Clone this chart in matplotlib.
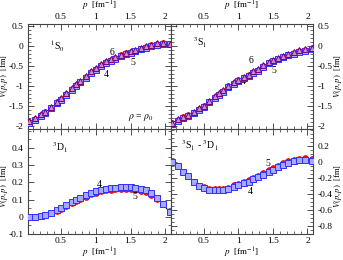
import matplotlib

matplotlib.use("Agg")
import matplotlib.pyplot as plt
from matplotlib.ticker import MultipleLocator, FuncFormatter

plt.rcParams["font.family"] = ["Liberation Serif", "DejaVu Serif"]
plt.rcParams["mathtext.fontset"] = "stix"
plt.rcParams["axes.unicode_minus"] = False

# momentum mesh [fm^-1]
p = [0.05, 0.13, 0.21, 0.27, 0.36, 0.44, 0.50, 0.58, 0.66, 0.72, 0.78, 0.86, 0.94, 1.00,
     1.08, 1.15, 1.22, 1.28, 1.36, 1.44, 1.50, 1.57, 1.65, 1.72, 1.80, 1.88, 1.96, 2.06]

# 1S0
s0_n4 = [-1.93, -1.85, -1.75, -1.68, -1.56, -1.43, -1.34, -1.22, -1.09, -1.00, -0.91, -0.79, -0.67, -0.59,
         -0.49, -0.42, -0.36, -0.31, -0.25, -0.20, -0.17, -0.13, -0.08, -0.04, 0.00, 0.04, 0.06, 0.05]
s0_n5 = [-1.91, -1.83, -1.73, -1.66, -1.54, -1.41, -1.32, -1.20, -1.07, -0.98, -0.89, -0.77, -0.65, -0.57,
         -0.47, -0.40, -0.34, -0.29, -0.23, -0.18, -0.15, -0.11, -0.06, -0.02, 0.02, 0.06, 0.08, 0.06]
s0_n6 = [-1.89, -1.81, -1.71, -1.64, -1.52, -1.39, -1.30, -1.18, -1.05, -0.96, -0.87, -0.75, -0.63, -0.55,
         -0.45, -0.38, -0.32, -0.27, -0.21, -0.16, -0.13, -0.09, -0.04, 0.00, 0.04, 0.08, 0.09, 0.06]

# 3S1
s1_n4 = [-1.96, -1.88, -1.81, -1.76, -1.69, -1.60, -1.53, -1.41, -1.30, -1.22, -1.14, -1.03, -0.94, -0.88,
         -0.81, -0.75, -0.67, -0.61, -0.51, -0.43, -0.38, -0.33, -0.28, -0.23, -0.19, -0.14, -0.11, -0.06]
s1_n5 = [-1.94, -1.86, -1.79, -1.74, -1.67, -1.58, -1.51, -1.39, -1.28, -1.20, -1.12, -1.01, -0.92, -0.86,
         -0.79, -0.73, -0.65, -0.59, -0.49, -0.41, -0.36, -0.31, -0.26, -0.21, -0.17, -0.12, -0.09, -0.05]
s1_n6 = [-1.92, -1.84, -1.77, -1.72, -1.65, -1.56, -1.49, -1.37, -1.26, -1.18, -1.10, -0.99, -0.90, -0.84,
         -0.77, -0.71, -0.63, -0.57, -0.47, -0.39, -0.34, -0.29, -0.24, -0.19, -0.15, -0.10, -0.08, -0.04]

# 3D1
d1_n4 = [0.000, 0.000, 0.004, 0.010, 0.022, 0.040, 0.052, 0.068, 0.085, 0.098, 0.110, 0.125, 0.140, 0.148,
         0.157, 0.163, 0.168, 0.170, 0.172, 0.172, 0.171, 0.168, 0.162, 0.153, 0.137, 0.110, 0.075, 0.028]
d1_n5 = [0.000, 0.000, 0.003, 0.008, 0.020, 0.036, 0.048, 0.062, 0.078, 0.090, 0.101, 0.115, 0.130, 0.138,
         0.147, 0.153, 0.158, 0.160, 0.162, 0.162, 0.161, 0.158, 0.152, 0.143, 0.128, 0.104, 0.072, 0.026]

# 3S1 - 3D1
sd_n4 = [0.000, -0.050, -0.130, -0.180, -0.250, -0.300, -0.320, -0.345, -0.355, -0.355, -0.350, -0.340, -0.310, -0.290,
         -0.265, -0.245, -0.220, -0.195, -0.160, -0.125, -0.100, -0.070, -0.040, -0.015, 0.005, 0.020, 0.025, 0.015]
sd_n5 = [0.000, -0.048, -0.127, -0.177, -0.245, -0.295, -0.313, -0.335, -0.343, -0.340, -0.335, -0.322, -0.290, -0.270,
         -0.245, -0.225, -0.200, -0.175, -0.140, -0.105, -0.080, -0.050, -0.020, 0.005, 0.025, 0.040, 0.045, 0.032]

W, H = 343, 260
fig = plt.figure(figsize=(W / 100, H / 100), dpi=100)


def px_axes(x0, y0, x1, y1):
    return fig.add_axes([x0 / W, 1 - y1 / H, (x1 - x0) / W, (y1 - y0) / H])


ax_tl = px_axes(28, 24, 171, 129)
ax_tr = px_axes(171, 24, 313, 129)
ax_bl = px_axes(28, 129, 171, 234)
ax_br = px_axes(171, 129, 313, 234)

fmt = FuncFormatter(lambda v, _: f"{v:g}")

SQ = dict(marker="s", ms=4.1, mfc="#a8a8ff", mec="#3030ff", mew=0.7, ls="none", zorder=4)
CI = dict(marker="o", ms=4.1, mfc="#ff1010", mec="#e00000", mew=0.6, ls="none", zorder=3)
TR = dict(marker="^", ms=4.3, mfc="#c890c8", mec="#7a007a", mew=0.7, ls="none", zorder=5)
LN = dict(color="black", lw=0.7, zorder=2)

XLAB = r"$p$  [fm$^{-1}$]"
YLAB = r"$V(p,p)$  [fm]"


def style(ax, ylim, ymin, yticks, top, left):
    ax.set_xlim(0.03, 2.08)
    ax.set_ylim(*ylim)
    ax.set_xticks([0.5, 1.0, 1.5, 2.0])
    ax.xaxis.set_minor_locator(MultipleLocator(0.1))
    ax.set_yticks(yticks)
    ax.yaxis.set_minor_locator(MultipleLocator(ymin))
    ax.xaxis.set_major_formatter(fmt)
    ax.yaxis.set_major_formatter(fmt)
    ax.tick_params(which="both", direction="in", top=True, bottom=True, left=True, right=True,
                   labelsize=6.8, colors="#333333", labelcolor="black")
    ax.tick_params(axis="y", pad=3)
    ax.tick_params(axis="x", pad=2)
    ax.tick_params(which="major", length=4, width=0.6)
    ax.tick_params(which="minor", length=2, width=0.5)
    ax.tick_params(labeltop=top, labelbottom=not top, labelleft=left, labelright=not left)
    for s in ax.spines.values():
        s.set_linewidth(0.8)
        s.set_color("#444444")


# top left: 1S0
ax_tl.plot(p, s0_n4, **LN)
ax_tl.plot(p, s0_n5, **CI)
ax_tl.plot(p, s0_n4, **SQ)
ax_tl.plot(p, s0_n6, **TR)
style(ax_tl, (-2.08, 0.56), 0.1, [-2, -1.5, -1, -0.5, 0, 0.5], True, True)
ax_tl.text(0.45, 0.0, r"$^1$S$_0$", fontsize=7, ha="center", va="center")
ax_tl.text(1.23, -0.15, "6", fontsize=7, ha="center", va="center")
ax_tl.text(1.54, -0.40, "5", fontsize=7, ha="center", va="center")
ax_tl.text(1.15, -0.70, "4", fontsize=7, ha="center", va="center")
ax_tl.text(1.65, -1.78, r"$\rho$ = $\rho_0$", fontsize=7, ha="center", va="center")

# top right: 3S1
ax_tr.plot(p, s1_n4, **LN)
ax_tr.plot(p, s1_n5, **CI)
ax_tr.plot(p, s1_n4, **SQ)
ax_tr.plot(p, s1_n6, **TR)
style(ax_tr, (-2.08, 0.56), 0.1, [-2, -1.5, -1, -0.5, 0, 0.5], True, False)
ax_tr.text(0.45, 0.09, r"$^3$S$_1$", fontsize=7, ha="center", va="center")
ax_tr.text(1.19, -0.36, "6", fontsize=7, ha="center", va="center")
ax_tr.text(1.51, -0.60, "5", fontsize=7, ha="center", va="center")
ax_tr.text(1.08, -0.88, "4", fontsize=7, ha="center", va="center")

# bottom left: 3D1
ax_bl.plot(p, d1_n4, **LN)
ax_bl.plot(p, d1_n5, **CI)
ax_bl.plot(p, d1_n4, **SQ)
style(ax_bl, (-0.1, 0.51), 0.05, [-0.1, 0, 0.1, 0.2, 0.3, 0.4], False, True)
ax_bl.text(0.49, 0.40, r"$^3$D$_1$", fontsize=7, ha="center", va="center")
ax_bl.text(1.05, 0.19, "4", fontsize=7, ha="center", va="center")
ax_bl.text(1.56, 0.115, "5", fontsize=7, ha="center", va="center")

# bottom right: 3S1 - 3D1
ax_br.plot(p, sd_n4, **LN)
ax_br.plot(p, sd_n5, **CI)
ax_br.plot(p, sd_n4, **SQ)
style(ax_br, (-0.9, 0.41), 0.05, [-0.8, -0.6, -0.4, -0.2, 0, 0.2], False, False)
ax_br.text(0.44, 0.195, r"$^3$S$_1$ - $^3$D$_1$", fontsize=7, ha="center", va="center")
ax_br.text(1.43, -0.02, "5", fontsize=7, ha="center", va="center")
ax_br.text(1.17, -0.37, "4", fontsize=7, ha="center", va="center")

# axis labels placed in figure pixels
for xc in (100, 242):
    fig.text(xc / W, 1 - 6 / H, XLAB, fontsize=6.5, ha="center", va="center")
    fig.text(xc / W, 1 - 253 / H, XLAB, fontsize=6.5, ha="center", va="center")
for yc in (76, 186):
    fig.text(4.5 / W, 1 - yc / H, YLAB, fontsize=6.2, ha="center", va="center", rotation=90)
    fig.text(338 / W, 1 - yc / H, YLAB, fontsize=6.2, ha="center", va="center", rotation=90)

fig.savefig("out.png", dpi=100)
